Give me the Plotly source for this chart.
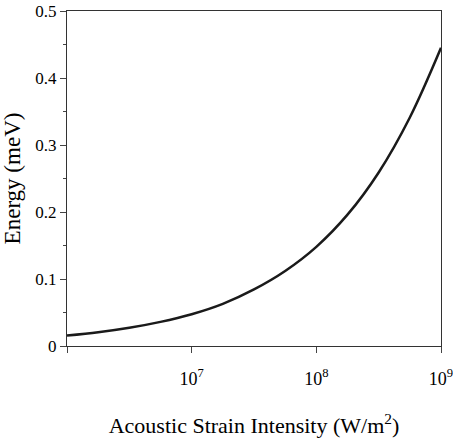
import plotly.graph_objects as go

# Data (log10 of intensity, energy in meV)
log_intensity = [6.0, 6.25, 6.5, 6.75, 7.0, 7.25, 7.5, 7.75, 8.0, 8.25, 8.5, 8.75, 9.0]
energy_mev = [0.0155, 0.0205, 0.0272, 0.036, 0.0475, 0.063, 0.0845, 0.112, 0.148, 0.196, 0.259, 0.341, 0.445]
intensity = [10 ** v for v in log_intensity]

x_tick_vals = [1e6, 1e7, 1e8, 1e9]
x_tick_text = ["", "10<sup>7</sup>", "10<sup>8</sup>", "10<sup>9</sup>"]
y_tick_vals = [0, 0.1, 0.2, 0.3, 0.4, 0.5]
y_tick_text = ["0", "0.1", "0.2", "0.3", "0.4", "0.5"]

font_family = "Liberation Serif, Times New Roman, serif"

fig = go.Figure()
fig.add_trace(go.Scatter(
    x=intensity, y=energy_mev, mode="lines",
    line=dict(color="#1a1a1a", width=2.5, shape="spline", smoothing=1.0),
    showlegend=False,
))

fig.update_layout(
    width=453, height=439,
    margin=dict(l=67, r=12, t=11, b=93),
    paper_bgcolor="white", plot_bgcolor="white",
    font=dict(family=font_family, color="black", size=16),
    xaxis=dict(
        type="log", range=[6, 9], automargin=False,
        tickvals=x_tick_vals, ticktext=x_tick_text,
        ticks="outside", ticklen=6, tickcolor="#444",
        ticklabelstandoff=10, ticklabeloverflow="allow",
        showgrid=False, zeroline=False,
        showline=True, linecolor="#333", linewidth=1, mirror=True,
        tickfont=dict(family=font_family, size=18),
        title=dict(text="Acoustic Strain Intensity (W/m<sup>2</sup>)",
                   font=dict(family=font_family, size=22), standoff=30),
    ),
    yaxis=dict(
        range=[0, 0.5], automargin=False,
        tickvals=y_tick_vals, ticktext=y_tick_text,
        ticks="outside", ticklen=6, tickcolor="#444",
        ticklabeloverflow="allow",
        minor=dict(dtick=0.05, ticks="outside", ticklen=3, tickcolor="#444"),
        showgrid=False, zeroline=False,
        showline=True, linecolor="#333", linewidth=1, mirror=True,
        tickfont=dict(family=font_family, size=17),
        title=dict(text="Energy (meV)", font=dict(family=font_family, size=23), standoff=12),
    ),
)

fig.write_html("out.html")
